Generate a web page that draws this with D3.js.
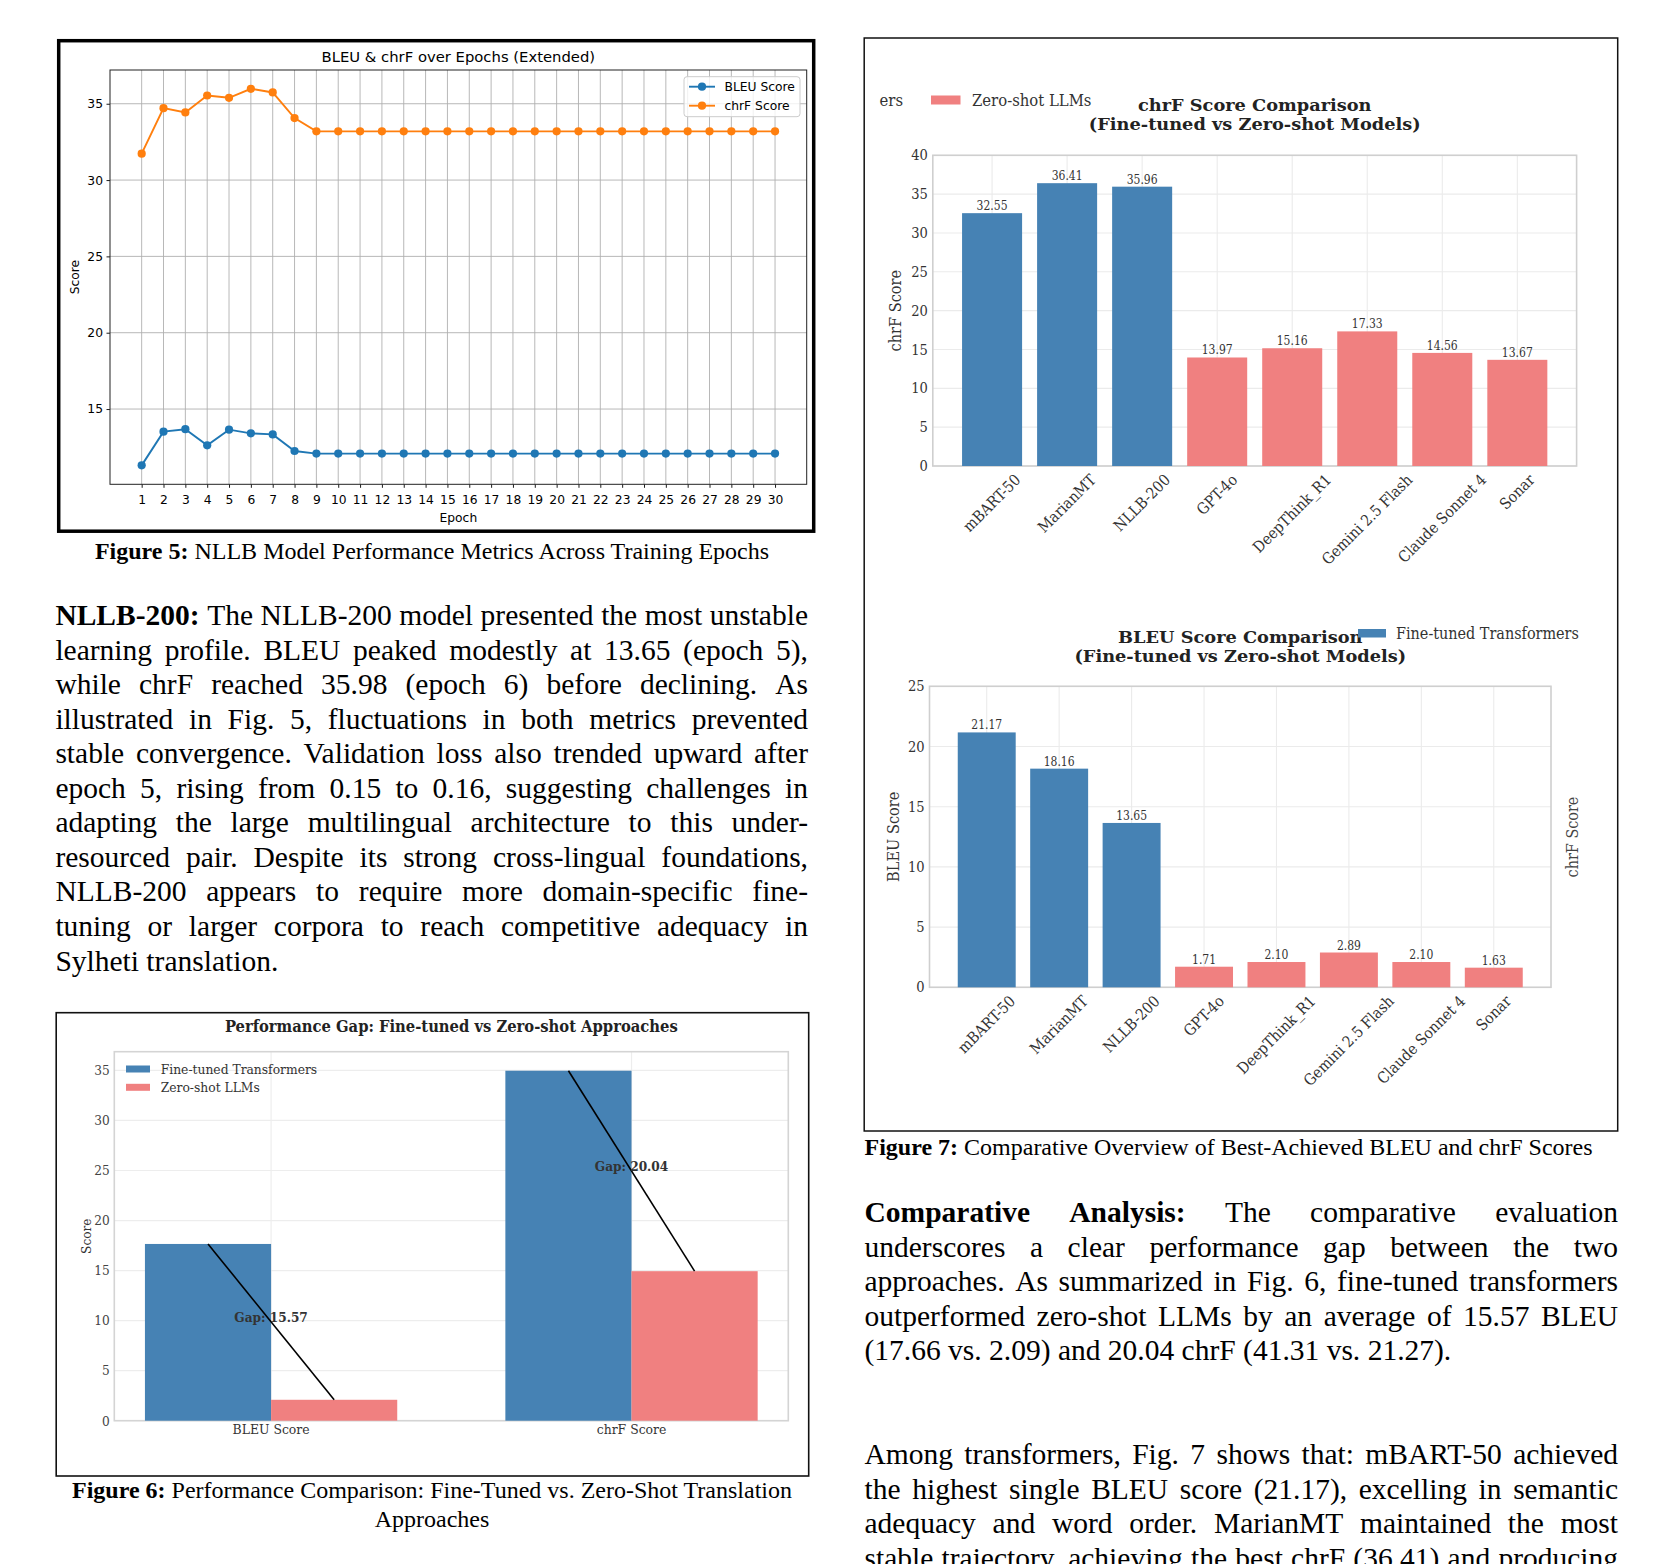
<!DOCTYPE html>
<html><head><meta charset="utf-8">
<script src="https://cdn.jsdelivr.net/npm/d3@7/dist/d3.min.js"></script>
<style>
html,body{margin:0;padding:0;background:#fff;}
svg{display:block;}
text{white-space:pre;}
</style></head><body>
<svg id="page" width="1672" height="1564" xmlns="http://www.w3.org/2000/svg"></svg>
<script>
// ================= DATA =================
// Figure 5 : NLLB training curve
const epochs = [1,2,3,4,5,6,7,8,9,10,11,12,13,14,15,16,17,18,19,20,21,22,23,24,25,26,27,28,29,30];
const bleuByEpoch = [11.31,13.52,13.68,12.62,13.65,13.41,13.34,12.25,12.08,12.08,12.08,12.08,12.08,12.08,12.08,12.08,12.08,12.08,12.08,12.08,12.08,12.08,12.08,12.08,12.08,12.08,12.08,12.08,12.08,12.08];
const chrfByEpoch = [31.73,34.71,34.43,35.54,35.39,35.98,35.74,34.06,33.19,33.19,33.19,33.19,33.19,33.19,33.19,33.19,33.19,33.19,33.19,33.19,33.19,33.19,33.19,33.19,33.19,33.19,33.19,33.19,33.19,33.19];
const epochSeriesNames = ["BLEU Score","chrF Score"];
const epochYTicks = [15,20,25,30,35];

// Figure 7 : model comparison
const models = ["mBART-50","MarianMT","NLLB-200","GPT-4o","DeepThink_R1","Gemini 2.5 Flash","Claude Sonnet 4","Sonar"];
const modelGroups = ["ft","ft","ft","zs","zs","zs","zs","zs"];
const chrfScores = [32.55,36.41,35.96,13.97,15.16,17.33,14.56,13.67];
const bleuScores = [21.17,18.16,13.65,1.71,2.10,2.89,2.10,1.63];
const chrfTicks = [0,5,10,15,20,25,30,35,40];
const bleuTicks = [0,5,10,15,20,25];

// Figure 6 : performance gap
const gapMetrics = ["BLEU Score","chrF Score"];
const fineTunedAvg = [17.66,34.97];
const zeroShotAvg = [2.09,14.94];
const gapValues = [15.57,20.04];
const gapTicks = [0,5,10,15,20,25,30,35];
const groupNames = ["Fine-tuned Transformers","Zero-shot LLMs"];

// Text
const leftPara = [
 "NLLB-200: The NLLB-200 model presented the most unstable",
 "learning profile. BLEU peaked modestly at 13.65 (epoch 5),",
 "while chrF reached 35.98 (epoch 6) before declining. As",
 "illustrated in Fig. 5, fluctuations in both metrics prevented",
 "stable convergence. Validation loss also trended upward after",
 "epoch 5, rising from 0.15 to 0.16, suggesting challenges in",
 "adapting the large multilingual architecture to this under-",
 "resourced pair. Despite its strong cross-lingual foundations,",
 "NLLB-200 appears to require more domain-specific fine-",
 "tuning or larger corpora to reach competitive adequacy in",
 "Sylheti translation."
];
const rightPara1 = [
 "Comparative Analysis: The comparative evaluation",
 "underscores a clear performance gap between the two",
 "approaches. As summarized in Fig. 6, fine-tuned transformers",
 "outperformed zero-shot LLMs by an average of 15.57 BLEU",
 "(17.66 vs. 2.09) and 20.04 chrF (41.31 vs. 21.27)."
];
const rightPara2 = [
 "Among transformers, Fig. 7 shows that: mBART-50 achieved",
 "the highest single BLEU score (21.17), excelling in semantic",
 "adequacy and word order. MarianMT maintained the most",
 "stable trajectory, achieving the best chrF (36.41) and producing"
];
const cap5 = ["Figure 5:", " NLLB Model Performance Metrics Across Training Epochs"];
const cap6a = ["Figure 6:", " Performance Comparison: Fine-Tuned vs. Zero-Shot Translation"];
const cap6b = ["", "Approaches"];
const cap7 = ["Figure 7:", " Comparative Overview of Best-Achieved BLEU and chrF Scores"];

// ================= STYLE =================
const BLUE = "#4682b4", RED = "#f08080";
const C_BLUE = "#1f77b4", C_ORANGE = "#ff7f0e";
const SANS = "'DejaVu Sans', sans-serif";
const FSERIF = "'DejaVu Serif', serif";
const BODY = "'Liberation Serif', 'Times New Roman', serif";
const BODY_FS = 29.5;

const svg = d3.select("#page");
svg.append("rect").attr("width",1672).attr("height",1564).attr("fill","#fff");

function ft(sel, size, weight){
  return sel.attr("font-family", FSERIF).attr("font-stretch","condensed")
    .attr("font-size", size).attr("font-weight", weight||"normal");
}

// ================= FIGURE 5 =================
(function(){
  const g = svg.append("g");
  g.append("rect").attr("x",58.7).attr("y",40.7).attr("width",755).attr("height",490.5)
    .attr("fill","none").attr("stroke","#000").attr("stroke-width",3.5);
  const P = {l:110, r:806.7, t:70, b:484.3};
  const x = d3.scalePoint().domain(epochs).range([P.l,P.r]).padding(1.45);
  const y = d3.scaleLinear().domain([10.07,37.21]).range([P.b,P.t]);
  g.append("g").selectAll("line").data(epochs).join("line")
    .attr("x1",d=>x(d)).attr("x2",d=>x(d)).attr("y1",P.t).attr("y2",P.b)
    .attr("stroke","#b0b0b0").attr("stroke-width",0.9);
  g.append("g").selectAll("line").data(epochYTicks).join("line")
    .attr("x1",P.l).attr("x2",P.r).attr("y1",d=>y(d)).attr("y2",d=>y(d))
    .attr("stroke","#b0b0b0").attr("stroke-width",0.9);
  const ax = g.append("g").attr("transform",`translate(0,${P.b})`)
    .call(d3.axisBottom(x).tickSize(3.5).tickPadding(7));
  ax.select(".domain").remove();
  ax.selectAll("text").attr("font-family",SANS).attr("font-size",12.3).attr("fill","#000");
  ax.selectAll("line").attr("stroke","#000").attr("stroke-width",0.9);
  const ay = g.append("g").attr("transform",`translate(${P.l},0)`)
    .call(d3.axisLeft(y).tickValues(epochYTicks).tickSize(3.5).tickPadding(3.5));
  ay.select(".domain").remove();
  ay.selectAll("text").attr("font-family",SANS).attr("font-size",12.3).attr("fill","#000");
  ay.selectAll("line").attr("stroke","#000").attr("stroke-width",0.9);
  g.append("rect").attr("x",P.l).attr("y",P.t).attr("width",P.r-P.l).attr("height",P.b-P.t)
    .attr("fill","none").attr("stroke","#222").attr("stroke-width",1);

  const series = [bleuByEpoch, chrfByEpoch];
  const cols = [C_BLUE, C_ORANGE];
  series.forEach((s,si)=>{
    const line = d3.line().x((d,i)=>x(epochs[i])).y(d=>y(d));
    g.append("path").attr("d",line(s)).attr("fill","none").attr("stroke",cols[si]).attr("stroke-width",1.9);
    g.append("g").selectAll("circle").data(s).join("circle")
      .attr("cx",(d,i)=>x(epochs[i])).attr("cy",d=>y(d)).attr("r",4.1).attr("fill",cols[si]);
  });
  g.append("text").attr("x",(P.l+P.r)/2).attr("y",62).attr("text-anchor","middle")
    .attr("font-family",SANS).attr("font-size",14.8).text("BLEU & chrF over Epochs (Extended)");
  g.append("text").attr("x",(P.l+P.r)/2).attr("y",521.5).attr("text-anchor","middle")
    .attr("font-family",SANS).attr("font-size",12.3).text("Epoch");
  g.append("text").attr("transform",`translate(79,${(P.t+P.b)/2}) rotate(-90)`).attr("text-anchor","middle")
    .attr("font-family",SANS).attr("font-size",12.3).text("Score");
  // legend
  const lg = g.append("g");
  lg.append("rect").attr("x",684).attr("y",76.7).attr("width",116).attr("height",40).attr("rx",3)
    .attr("fill","#fff").attr("fill-opacity",0.8).attr("stroke","#cccccc").attr("stroke-width",1);
  epochSeriesNames.forEach((n,i)=>{
    const yy = 86.7 + i*19;
    lg.append("line").attr("x1",689).attr("x2",715).attr("y1",yy).attr("y2",yy).attr("stroke",cols[i]).attr("stroke-width",1.9);
    lg.append("circle").attr("cx",702).attr("cy",yy).attr("r",4.1).attr("fill",cols[i]);
    lg.append("text").attr("x",724.5).attr("y",yy).attr("dominant-baseline","central")
      .attr("font-family",SANS).attr("font-size",12.3).text(n);
  });
})();

// ================= FIGURE 6 =================
(function(){
  const g = svg.append("g");
  g.append("rect").attr("x",56.2).attr("y",1012.7).attr("width",752.5).attr("height",463.3)
    .attr("fill","none").attr("stroke","#111").attr("stroke-width",1.6);
  const P = {l:114.3, r:788.3, t:1051.7, b:1420.7};
  const x = d3.scaleBand().domain(gapMetrics).range([P.l,P.r]).paddingInner(0.3).paddingOuter(0.085);
  const sub = d3.scaleBand().domain(["ft","zs"]).range([0,x.bandwidth()]);
  const y = d3.scaleLinear().domain([0,36.87]).range([P.b,P.t]);
  g.append("g").selectAll("line").data(gapTicks).join("line")
    .attr("x1",P.l).attr("x2",P.r).attr("y1",d=>y(d)).attr("y2",d=>y(d))
    .attr("stroke","#ededed").attr("stroke-width",1.2);
  g.append("g").selectAll("line").data(gapMetrics).join("line")
    .attr("x1",d=>x(d)+x.bandwidth()/2).attr("x2",d=>x(d)+x.bandwidth()/2).attr("y1",P.t).attr("y2",P.b)
    .attr("stroke","#ededed").attr("stroke-width",1.2);
  g.append("rect").attr("x",P.l).attr("y",P.t).attr("width",P.r-P.l).attr("height",P.b-P.t)
    .attr("fill","none").attr("stroke","#d4d4d4").attr("stroke-width",1.6);
  gapMetrics.forEach((m,i)=>{
    g.append("rect").attr("x",x(m)+sub("ft")).attr("y",y(fineTunedAvg[i])).attr("width",sub.bandwidth())
      .attr("height",y(0)-y(fineTunedAvg[i])).attr("fill",BLUE);
    g.append("rect").attr("x",x(m)+sub("zs")).attr("y",y(zeroShotAvg[i])).attr("width",sub.bandwidth())
      .attr("height",y(0)-y(zeroShotAvg[i])).attr("fill",RED);
  });
  gapMetrics.forEach((m,i)=>{
    g.append("line").attr("x1",x(m)+sub("ft")+sub.bandwidth()/2).attr("y1",y(fineTunedAvg[i]))
      .attr("x2",x(m)+sub("zs")+sub.bandwidth()/2).attr("y2",y(zeroShotAvg[i]))
      .attr("stroke","#000").attr("stroke-width",1.6);
    ft(g.append("text"),13.5,"bold").attr("x",x(m)+x.bandwidth()/2).attr("y",y((fineTunedAvg[i]+zeroShotAvg[i])/2))
      .attr("text-anchor","middle").attr("fill","#333").text("Gap: "+gapValues[i].toFixed(2));
  });
  const ay = g.append("g").attr("transform",`translate(${P.l},0)`)
    .call(d3.axisLeft(y).tickValues(gapTicks).tickSize(0).tickPadding(4.5));
  ay.select(".domain").remove();
  ft(ay.selectAll("text"),13.5).attr("fill","#444");
  const ax = g.append("g").attr("transform",`translate(0,${P.b})`)
    .call(d3.axisBottom(x).tickSize(0).tickPadding(4));
  ax.select(".domain").remove();
  ft(ax.selectAll("text"),13.8).attr("fill","#333");
  ft(g.append("text"),13.5).attr("transform",`translate(86,${(P.t+P.b)/2}) rotate(-90)`)
    .attr("text-anchor","middle").attr("dominant-baseline","central").attr("fill","#333").text("Score");
  ft(g.append("text"),16.4,"bold").attr("x",(P.l+P.r)/2).attr("y",1031.5).attr("text-anchor","middle")
    .attr("fill","#222").text("Performance Gap: Fine-tuned vs Zero-shot Approaches");
  // legend
  [BLUE,RED].forEach((c,i)=>{
    const yy = 1069 + i*18.3;
    g.append("rect").attr("x",126).attr("y",yy-3.5).attr("width",24).attr("height",7).attr("fill",c);
    ft(g.append("text"),13.7).attr("x",160.7).attr("y",yy).attr("dominant-baseline","central")
      .attr("fill","#333").text(groupNames[i]);
  });
})();

// ================= FIGURE 7 =================
svg.append("rect").attr("x",864.2).attr("y",38).attr("width",753.5).attr("height",1093)
  .attr("fill","none").attr("stroke","#111").attr("stroke-width",1.5);

function barChart(o){
  const g = svg.append("g");
  const x = d3.scaleBand().domain(models).range([o.l,o.r]).paddingInner(0.2).paddingOuter(0.39);
  const y = d3.scaleLinear().domain([0,o.max]).range([o.b,o.t]);
  g.append("g").selectAll("line").data(o.ticks).join("line")
    .attr("x1",o.l).attr("x2",o.r).attr("y1",d=>y(d)).attr("y2",d=>y(d))
    .attr("stroke","#ebebeb").attr("stroke-width",1.1);
  g.append("g").selectAll("line").data(models).join("line")
    .attr("x1",d=>x(d)+x.bandwidth()/2).attr("x2",d=>x(d)+x.bandwidth()/2).attr("y1",o.t).attr("y2",o.b)
    .attr("stroke","#ebebeb").attr("stroke-width",1.1);
  g.append("rect").attr("x",o.l).attr("y",o.t).attr("width",o.r-o.l).attr("height",o.b-o.t)
    .attr("fill","none").attr("stroke","#cfcfcf").attr("stroke-width",1.6);
  g.append("g").selectAll("rect").data(models).join("rect")
    .attr("x",d=>x(d)).attr("width",x.bandwidth())
    .attr("y",(d,i)=>y(o.values[i])).attr("height",(d,i)=>y(0)-y(o.values[i]))
    .attr("fill",(d,i)=>modelGroups[i]==="ft"?BLUE:RED);
  ft(g.append("g").selectAll("text").data(models).join("text"),12)
    .attr("x",d=>x(d)+x.bandwidth()/2).attr("y",(d,i)=>y(o.values[i])-3)
    .attr("text-anchor","middle").attr("fill","#333").text((d,i)=>o.values[i].toFixed(2));
  const ay = g.append("g").attr("transform",`translate(${o.l},0)`)
    .call(d3.axisLeft(y).tickValues(o.ticks).tickSize(0).tickPadding(5));
  ay.select(".domain").remove();
  ft(ay.selectAll("text"),14.5).attr("fill","#333");
  // rotated category labels
  models.forEach(m=>{
    const fs = 15.5;
    const t = ft(g.append("text"),fs).attr("text-anchor","middle").attr("dominant-baseline","central")
      .attr("fill","#333").text(m);
    const w = t.node().getComputedTextLength();
    const half = (w + fs*1.15)*Math.SQRT1_2/2;
    t.attr("transform",`translate(${x(m)+x.bandwidth()/2},${o.b+5+half}) rotate(-45)`);
  });
  ft(g.append("text"),16.2).attr("transform",`translate(${o.ylx},${(o.t+o.b)/2}) rotate(-90)`)
    .attr("text-anchor","middle").attr("dominant-baseline","central").attr("fill","#333").text(o.ylabel);
  const cx = (o.l+o.r)/2;
  // title: source image was widened, so glyphs are stretched horizontally
  o.title.forEach((tl,i)=>{
    ft(g.append("text"),17,"bold").attr("transform",`translate(${cx},${o.ty[i]}) scale(1.16,1)`)
      .attr("text-anchor","middle").attr("dominant-baseline","central").attr("fill","#222").text(tl);
  });
  return g;
}
const gTop = barChart({l:932.8,r:1576.6,t:155.3,b:466,max:40,ticks:chrfTicks,values:chrfScores,
  ylabel:"chrF Score",ylx:895.5,title:["chrF Score Comparison","(Fine-tuned vs Zero-shot Models)"],ty:[104.5,123.5]});
const gBot = barChart({l:929.5,r:1551,t:686.3,b:987.3,max:25,ticks:bleuTicks,values:bleuScores,
  ylabel:"BLEU Score",ylx:893.3,title:["BLEU Score Comparison","(Fine-tuned vs Zero-shot Models)"],ty:[636.5,656]});
// top legend fragment (cropped in source)
ft(gTop.append("text"),16.5).attr("x",879.5).attr("y",100).attr("dominant-baseline","central").attr("fill","#333").text("ers");
gTop.append("rect").attr("x",931).attr("y",95.5).attr("width",29.5).attr("height",9).attr("fill",RED);
ft(gTop.append("text"),16.5).attr("x",972).attr("y",100).attr("dominant-baseline","central").attr("fill","#333").text(groupNames[1]);
// bottom legend
gBot.append("rect").attr("x",1358).attr("y",629).attr("width",28).attr("height",8.5).attr("fill",BLUE);
ft(gBot.append("text"),16).attr("x",1396).attr("y",633).attr("dominant-baseline","central").attr("fill","#333").text(groupNames[0]);
// stray twin-axis label
ft(gBot.append("text"),16).attr("transform",`translate(1572.4,837) rotate(-90)`)
  .attr("text-anchor","middle").attr("dominant-baseline","central").attr("fill","#444").text("chrF Score");

// ================= TEXT =================
function caption(parts, x, y, anchor){
  const t = svg.append("text").attr("x",x).attr("y",y).attr("text-anchor",anchor)
    .attr("font-family",BODY).attr("font-size",24).attr("fill","#000");
  t.append("tspan").attr("font-weight","bold").text(parts[0]);
  t.append("tspan").text(parts[1]);
}
caption(cap5, 432, 559, "middle");
caption(cap6a, 432, 1498, "middle");
caption(cap6b, 432, 1527, "middle");
caption(cap7, 864.5, 1155, "start");

function paragraph(lines, boldWords, x0, w, y0, lh, lastJustified){
  lines.forEach((line, li)=>{
    const words = line.split(" ");
    const yy = y0 + li*lh;
    const nodes = words.map((wd,wi)=> svg.append("text").attr("y",yy)
      .attr("font-family",BODY).attr("font-size",BODY_FS).attr("fill","#000")
      .attr("font-weight",(li===0 && wi<boldWords)?"bold":"normal").text(wd));
    const ws = nodes.map(n=>n.node().getComputedTextLength());
    const last = (li===lines.length-1) && !lastJustified;
    const gap = last ? BODY_FS*0.25 : (w - d3.sum(ws))/(words.length-1);
    let xx = x0;
    nodes.forEach((n,i)=>{ n.attr("x",xx); xx += ws[i] + gap; });
  });
}
const LH = 34.55;
paragraph(leftPara, 1, 55.4, 752.6, 625, LH, false);
paragraph(rightPara1, 2, 864.5, 753.5, 1222, LH, false);
paragraph(rightPara2, 0, 864.5, 753.5, 1464, LH, true);
</script>
</body></html>
